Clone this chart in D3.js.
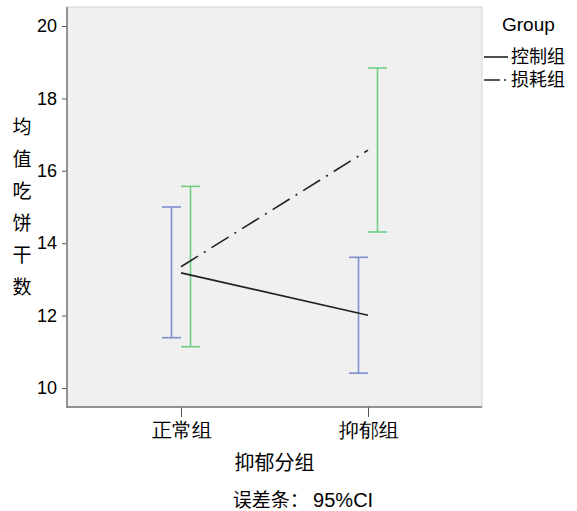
<!DOCTYPE html>
<html lang="zh">
<head>
<meta charset="UTF-8">
<title>均值吃饼干数</title>
<script src="https://d3js.org/d3.v7.min.js"></script>
<style>
    body { margin: 0; background: #fff; }
    svg { display: block; }
    .tick text { font-family: "Liberation Sans", Arial, sans-serif; font-size: 18px; fill: #000; }
    .cjk { font-family: "Noto Sans CJK SC", sans-serif; fill: #000; }
</style>
</head>
<body>
<svg id="chart" width="577" height="511"></svg>
<script>
// Data
const categories = ["正常组", "抑郁组"];
const groups = ["控制组", "损耗组"];
const means = {"控制组": [13.18, 12.01], "损耗组": [13.35, 16.57]};
const ciLow = {"控制组": [11.39, 10.41], "损耗组": [11.14, 14.31]};
const ciHigh = {"控制组": [15.0, 13.61], "损耗组": [15.57, 18.84]};
const yTicks = [10, 12, 14, 16, 18, 20];

const plot = {left: 67, right: 482, top: 7, bottom: 407};
const svg = d3.select("#chart");

const x = d3.scalePoint().domain(categories).range([181, 368]);
const y = d3.scaleLinear().domain([9.475, 20.525]).range([plot.bottom, plot.top]);

const barColor = {"控制组": "#7f8fcf", "损耗组": "#6dcf86"};
const barOffset = {"控制组": -9.5, "损耗组": 9.5};
const dashes = {"控制组": null, "损耗组": "20,7,2,7"};

// plot background
svg.append("rect")
    .attr("x", plot.left).attr("y", plot.top)
    .attr("width", plot.right - plot.left).attr("height", plot.bottom - plot.top)
    .attr("fill", "#f0f0f0").attr("stroke", "#d4d4d4").attr("stroke-width", 1);

// axes
const yAxis = svg.append("g")
    .attr("transform", `translate(${plot.left},0)`)
    .call(d3.axisLeft(y).tickValues(yTicks).tickSize(5).tickPadding(5));
const xAxis = svg.append("g")
    .attr("transform", `translate(0,${plot.bottom})`)
    .call(d3.axisBottom(x).tickSize(10).tickPadding(6));
xAxis.selectAll(".tick text").attr("class", "cjk").style("font-size", "20px");
[yAxis, xAxis].forEach(a => {
    a.select(".domain").remove();
    a.selectAll(".tick line").attr("stroke", "#555");
});
svg.append("line").attr("x1", plot.left).attr("x2", plot.left)
    .attr("y1", plot.top).attr("y2", plot.bottom + 1)
    .attr("stroke", "#777").attr("stroke-width", 1.5);
svg.append("line").attr("x1", plot.left).attr("x2", plot.right)
    .attr("y1", plot.bottom).attr("y2", plot.bottom)
    .attr("stroke", "#777").attr("stroke-width", 1.5);

// error bars
groups.forEach(g => {
    categories.forEach((c, i) => {
        const cx = x(c) + barOffset[g];
        const eb = svg.append("g").attr("stroke", barColor[g]).attr("stroke-width", 1.6);
        eb.append("line").attr("x1", cx).attr("x2", cx)
            .attr("y1", y(ciLow[g][i])).attr("y2", y(ciHigh[g][i]));
        [ciLow[g][i], ciHigh[g][i]].forEach(v => {
            eb.append("line").attr("x1", cx - 9.5).attr("x2", cx + 9.5)
                .attr("y1", y(v)).attr("y2", y(v));
        });
    });
});

// mean lines
const line = d3.line().x((d, i) => x(categories[i])).y(d => y(d));
groups.forEach(g => {
    svg.append("path")
        .attr("d", line(means[g]))
        .attr("fill", "none")
        .attr("stroke", "#222")
        .attr("stroke-width", 1.6)
        .attr("stroke-dasharray", dashes[g]);
});

// legend
svg.append("text").attr("x", 502).attr("y", 31)
    .style("font-family", "'Liberation Sans', Arial, sans-serif").style("font-size", "19px")
    .text("Group");
groups.forEach((g, i) => {
    const ly = 57 + i * 23;
    svg.append("line").attr("x1", 484).attr("x2", 508).attr("y1", ly).attr("y2", ly)
        .attr("stroke", "#222").attr("stroke-width", 1.6)
        .attr("stroke-dasharray", i === 1 ? "16,4,2,4" : null);
    svg.append("text").attr("class", "cjk").attr("x", 511).attr("y", ly + 6)
        .style("font-size", "18px").text(g);
});

// y axis title, stacked vertically
const yTitle = "均值吃饼干数".split("");
svg.append("g").selectAll("text").data(yTitle).join("text")
    .attr("class", "cjk")
    .attr("x", 22).attr("y", (d, i) => 127 + i * 32 + 7)
    .attr("text-anchor", "middle")
    .style("font-size", "19px")
    .text(d => d);

// x axis title
svg.append("text").attr("class", "cjk")
    .attr("x", (plot.left + plot.right) / 2).attr("y", 470)
    .attr("text-anchor", "middle").style("font-size", "20px")
    .text("抑郁分组");

// footnote
const foot = svg.append("text").attr("x", 303).attr("y", 507)
    .attr("text-anchor", "middle").style("font-size", "19px");
foot.append("tspan").attr("class", "cjk").text("误差条： ");
foot.append("tspan").style("font-family", "'Liberation Sans', Arial, sans-serif").style("font-size", "20px").text("95%CI");
</script>
</body>
</html>
